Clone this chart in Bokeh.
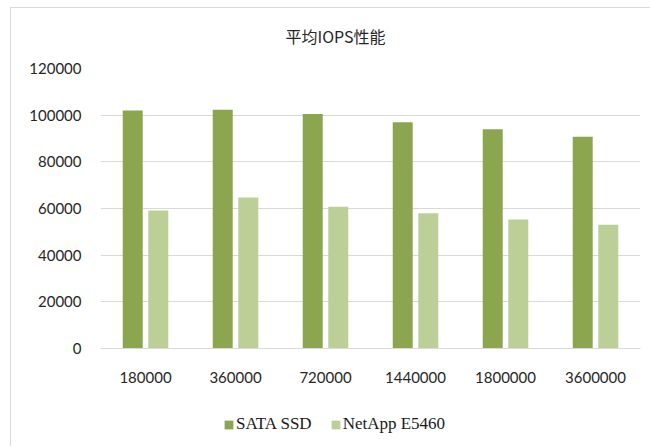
from bokeh.plotting import figure
from bokeh.layouts import column
from bokeh.models import (ColumnDataSource, FactorRange, Legend, LegendItem,
                          Label, NumeralTickFormatter, FixedTicker)
from bokeh.transform import dodge
from bokeh.embed import file_html
from bokeh.resources import INLINE

categories = ["180000", "360000", "720000", "1440000", "1800000", "3600000"]
sata_ssd = [102000, 102300, 100500, 97000, 94000, 90800]
netapp_e5460 = [59100, 64700, 60800, 58000, 55300, 53000]
y_ticks = [0, 20000, 40000, 60000, 80000, 100000, 120000]
title_text = "平均IOPS性能"
series_names = ["SATA SSD", "NetApp E5460"]
series_colors = ["#8ca650", "#bccf97"]

src = ColumnDataSource(dict(cat=categories, sata=sata_ssd, netapp=netapp_e5460))

BORDER = "1px solid #d9d9d9"


def strip(height, margin, styles):
    f = figure(width=640, height=height, output_backend="svg", toolbar_location=None,
               x_range=(0, 1), y_range=(0, 1),
               x_axis_location=None, y_axis_location=None,
               min_border=0, margin=margin, styles=styles)
    f.outline_line_color = None
    f.xgrid.visible = False
    f.ygrid.visible = False
    f.background_fill_color = "white"
    f.border_fill_color = "white"
    return f


# title strip (frames of the column are aligned with the chart's frame)
t = strip(40, (7, 0, 0, 10), {"border-top": BORDER, "border-left": BORDER})
t.add_layout(Label(x=235, y=13, x_units="screen", y_units="screen", text=title_text,
                   text_align="center", text_baseline="middle",
                   text_font="Noto Sans CJK SC", text_font_size="16px",
                   text_color="#262626"))

# main chart
p = figure(width=640, height=347, output_backend="svg", toolbar_location=None,
           x_range=FactorRange(factors=categories, range_padding=0),
           y_range=(0, 120000),
           min_border_left=89, min_border_right=11,
           min_border_top=21, min_border_bottom=46,
           margin=(0, 0, 0, 10),
           styles={"border-left": BORDER})
p.outline_line_color = None
p.background_fill_color = "white"
p.border_fill_color = "white"

p.vbar(x=dodge("cat", -0.142, range=p.x_range), top="sata", width=0.222,
       source=src, fill_color=series_colors[0], line_color=None)
p.vbar(x=dodge("cat", 0.142, range=p.x_range), top="netapp", width=0.222,
       source=src, fill_color=series_colors[1], line_color=None)

p.xgrid.grid_line_color = None
p.ygrid.grid_line_color = "#d9d9d9"
p.ygrid.grid_line_width = 1.2

p.yaxis.ticker = FixedTicker(ticks=y_ticks)
p.yaxis.formatter = NumeralTickFormatter(format="0")
p.yaxis.axis_line_color = None
p.yaxis.major_tick_line_color = None
p.yaxis.minor_tick_line_color = None
p.yaxis.major_label_standoff = 13
p.yaxis.major_label_text_font = "Lato"
p.yaxis.major_label_text_font_size = "15px"
p.yaxis.major_label_text_color = "#262626"

p.xaxis.axis_line_color = "#d9d9d9"
p.xaxis.axis_line_width = 1.2
p.xaxis.major_tick_line_color = None
p.xaxis.minor_tick_line_color = None
p.xaxis.major_label_standoff = 17
p.xaxis.major_label_text_font = "Lato"
p.xaxis.major_label_text_font_size = "15px"
p.xaxis.major_label_text_color = "#262626"

# legend strip
q = strip(52, (0, 0, 0, 10), {"border-left": BORDER})
k1 = q.vbar(x="sata", top="sata", width=0.1, source=src,
            fill_color=series_colors[0], line_color=None, visible=False)
k2 = q.vbar(x="netapp", top="netapp", width=0.1, source=src,
            fill_color=series_colors[1], line_color=None, visible=False)

legend = Legend(items=[LegendItem(label=series_names[0], renderers=[k1]),
                       LegendItem(label=series_names[1], renderers=[k2])],
                location=(123, 12), orientation="horizontal",
                glyph_width=11, glyph_height=11, label_standoff=2, spacing=18,
                padding=0, margin=0, border_line_color=None,
                background_fill_alpha=0, inactive_fill_alpha=0,
                label_text_font="Liberation Serif", label_text_font_size="17px",
                label_text_color="#1a1a1a")
q.add_layout(legend, "center")

layout = column(t, p, q, spacing=0)
open("out.html", "w").write(file_html(layout, INLINE))
